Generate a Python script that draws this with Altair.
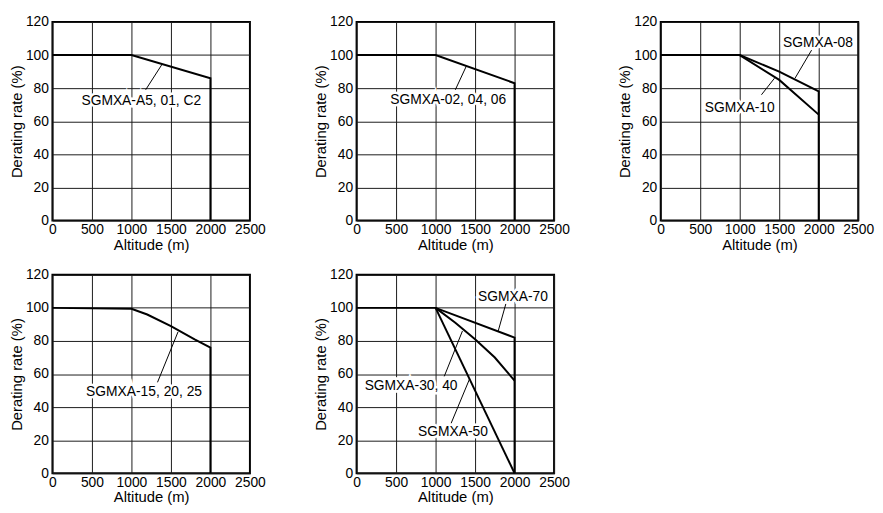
import altair as alt
import pandas as pd

# ---- data ----
alt_1 = [0, 1000, 2000, 2000]
rate_1 = [100, 100, 86, 0]

alt_2 = [0, 1000, 2000, 2000]
rate_2 = [100, 100, 83, 0]

alt_3a = [0, 1000, 1500, 2000, 2000]        # SGMXA-08
rate_3a = [100, 100, 90, 78, 0]
alt_3b = [1000, 1500, 2000]                 # SGMXA-10
rate_3b = [100, 85, 64]

alt_4 = [0, 1000, 1200, 1500, 1800, 2000, 2000]
rate_4 = [100, 99.5, 96, 89, 81, 76, 0]

alt_5a = [0, 1000, 2000, 2000]              # SGMXA-70
rate_5a = [100, 100, 82, 0]
alt_5b = [1000, 1250, 1500, 1750, 2000]     # SGMXA-30, 40
rate_5b = [100, 91, 81, 70, 56]
alt_5c = [1000, 2000]                       # SGMXA-50
rate_5c = [100, 0]

# annotation labels (data coordinates) and leader lines
notes = [
    # panel, label, text x, text y, leader x1, y1, x2, y2
    (1, "SGMXA-A5, 01, C2", 1125, 72.5, 1390, 94.6, 1180, 79),
    (2, "SGMXA-02, 04, 06", 1160, 73, 1390, 93.4, 1250, 79),
    (3, "SGMXA-08", 1990, 107.5, 1910, 103, 1700, 86),
    (3, "SGMXA-10", 1000, 68, 1275, 76, 1440, 86),
    (4, "SGMXA-15, 20, 25", 1160, 49, 1590, 85.5, 1330, 55),
    (5, "SGMXA-70", 1980, 106.5, 1890, 102.5, 1790, 85.5),
    (5, "SGMXA-30, 40", 690, 53, 1110, 58.6, 1340, 86),
    (5, "SGMXA-50", 1220, 25, 1195, 30, 1430, 57),
]

x_ticks = [0, 500, 1000, 1500, 2000, 2500]
y_ticks = [0, 20, 40, 60, 80, 100, 120]

FONT = "Liberation Sans"


def series_df(pairs):
    rows = []
    for s, (xs, ys) in enumerate(pairs):
        for i, (a, r) in enumerate(zip(xs, ys)):
            rows.append({"series": s, "i": i, "alt": a, "rate": r})
    return pd.DataFrame(rows)


X_SCALE = alt.Scale(domain=[0, 2500], nice=False)
Y_SCALE = alt.Scale(domain=[0, 120], nice=False)
X_AXIS = alt.Axis(values=x_ticks, title="Altitude (m)", format="d",
                  labelOverlap=False, labelFlush=False)
Y_AXIS = alt.Axis(values=y_ticks, title="Derating rate (%)", format="d",
                  labelOverlap=False, labelFlush=False)


def xenc(f):
    return alt.X(f, type="quantitative", scale=X_SCALE, axis=X_AXIS)


def yenc(f):
    return alt.Y(f, type="quantitative", scale=Y_SCALE, axis=Y_AXIS)


def panel(pairs, pnum):
    lines = alt.Chart(series_df(pairs)).mark_line(
        color="black", strokeWidth=2
    ).encode(x=xenc("alt"), y=yenc("rate"), detail="series:N", order="i:Q")

    nd = pd.DataFrame(
        [dict(label=n[1], tx=n[2], ty=n[3], x1=n[4], y1=n[5], x2=n[6], y2=n[7])
         for n in notes if n[0] == pnum]
    )
    rules = alt.Chart(nd).mark_rule(color="black", strokeWidth=1).encode(
        x=xenc("x1"), y=yenc("y1"), x2="x2:Q", y2="y2:Q")
    halo = alt.Chart(nd).mark_text(
        font=FONT, fontSize=14, stroke="white", strokeWidth=5, color="white"
    ).encode(x=xenc("tx"), y=yenc("ty"), text="label:N")
    txt = alt.Chart(nd).mark_text(font=FONT, fontSize=14, color="black").encode(
        x=xenc("tx"), y=yenc("ty"), text="label:N")
    return alt.layer(lines, rules, halo, txt).properties(width=200, height=201)


p1 = panel([(alt_1, rate_1)], 1)
p2 = panel([(alt_2, rate_2)], 2)
p3 = panel([(alt_3a, rate_3a), (alt_3b, rate_3b)], 3)
p4 = panel([(alt_4, rate_4)], 4)
p5 = panel([(alt_5a, rate_5a), (alt_5b, rate_5b), (alt_5c, rate_5c)], 5)

chart = alt.concat(p1, p2, p3, p4, p5, columns=3, spacing={"row": 55, "column": 108}).properties(
    bounds="flush",
    padding={"left": 0, "top": 3, "right": 0, "bottom": 0},
).configure_view(
    stroke="black", strokeWidth=2
).configure_axis(
    grid=True, gridColor="#1a1a1a", gridWidth=1, gridOpacity=1,
    domain=False, ticks=False,
    labelFont=FONT, labelFontSize=14, labelColor="black",
    titleFont=FONT, titleFontSize=15, titleFontWeight="normal", titleColor="black",
    titlePadding=1,
).configure_axisX(labelPadding=2).configure_axisY(labelAlign="right", labelPadding=4)

chart.save("out.html", embed_options={"renderer": "svg", "actions": False})
